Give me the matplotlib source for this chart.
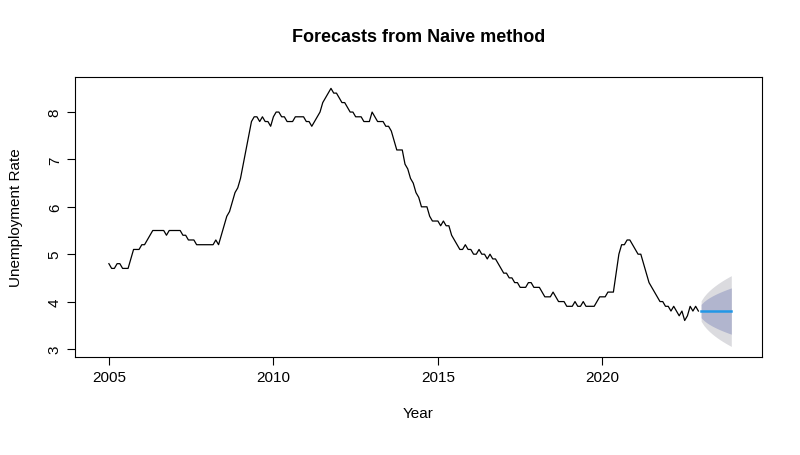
import numpy as np
import matplotlib.pyplot as plt

plt.rcParams["font.family"] = ["Liberation Sans", "DejaVu Sans"]

start_year = 2005
unemp = [
    4.8, 4.7, 4.7, 4.8, 4.8, 4.7, 4.7, 4.7, 4.9, 5.1, 5.1, 5.1,
    5.2, 5.2, 5.3, 5.4, 5.5, 5.5, 5.5, 5.5, 5.5, 5.4, 5.5, 5.5,
    5.5, 5.5, 5.5, 5.4, 5.4, 5.3, 5.3, 5.3, 5.2, 5.2, 5.2, 5.2,
    5.2, 5.2, 5.2, 5.3, 5.2, 5.4, 5.6, 5.8, 5.9, 6.1, 6.3, 6.4,
    6.6, 6.9, 7.2, 7.5, 7.8, 7.9, 7.9, 7.8, 7.9, 7.8, 7.8, 7.7,
    7.9, 8.0, 8.0, 7.9, 7.9, 7.8, 7.8, 7.8, 7.9, 7.9, 7.9, 7.9,
    7.8, 7.8, 7.7, 7.8, 7.9, 8.0, 8.2, 8.3, 8.4, 8.5, 8.4, 8.4,
    8.3, 8.2, 8.2, 8.1, 8.0, 8.0, 7.9, 7.9, 7.9, 7.8, 7.8, 7.8,
    8.0, 7.9, 7.8, 7.8, 7.8, 7.7, 7.7, 7.6, 7.4, 7.2, 7.2, 7.2,
    6.9, 6.8, 6.6, 6.5, 6.3, 6.2, 6.0, 6.0, 6.0, 5.8, 5.7, 5.7,
    5.7, 5.6, 5.7, 5.6, 5.6, 5.4, 5.3, 5.2, 5.1, 5.1, 5.2, 5.1,
    5.1, 5.0, 5.0, 5.1, 5.0, 5.0, 4.9, 5.0, 4.9, 4.9, 4.8, 4.7,
    4.6, 4.6, 4.5, 4.5, 4.4, 4.4, 4.3, 4.3, 4.3, 4.4, 4.4, 4.3,
    4.3, 4.3, 4.2, 4.1, 4.1, 4.1, 4.2, 4.1, 4.0, 4.0, 4.0, 3.9,
    3.9, 3.9, 4.0, 3.9, 3.9, 4.0, 3.9, 3.9, 3.9, 3.9, 4.0, 4.1,
    4.1, 4.1, 4.2, 4.2, 4.2, 4.6, 5.0, 5.2, 5.2, 5.3, 5.3, 5.2,
    5.1, 5.0, 5.0, 4.8, 4.6, 4.4, 4.3, 4.2, 4.1, 4.0, 4.0, 3.9,
    3.9, 3.8, 3.9, 3.8, 3.7, 3.8, 3.6, 3.7, 3.9, 3.8, 3.9, 3.8,
]
horizon = 12
sigma = 0.11  # residual sd of the naive model

t = start_year + np.arange(len(unemp)) / 12
tf = t[-1] + np.arange(1, horizon + 1) / 12
fc = np.full(horizon, unemp[-1])
se = sigma * np.sqrt(np.arange(1, horizon + 1))

fig = plt.figure(figsize=(8, 4.56), dpi=100)
ax = fig.add_axes([75 / 800, 1 - 358 / 456, (762 - 75) / 800, (358 - 78) / 456])
ax.fill_between(tf, fc - 1.96 * se, fc + 1.96 * se, color="#DBDBDF", lw=0)
ax.fill_between(tf, fc - 1.2816 * se, fc + 1.2816 * se, color="#B1B5CE", lw=0)
ax.plot(t, unemp, color="black", lw=0.9)
ax.plot(tf, fc, color="#2297E6", lw=1.8)

ax.set_xlim(2003.97, 2024.85)
ax.set_ylim(2.83, 8.74)
ax.set_xticks([2005, 2010, 2015, 2020])
ax.set_yticks([3, 4, 5, 6, 7, 8])
for lab in ax.get_yticklabels():
    lab.set_rotation(90)
    lab.set_va("center")
ax.tick_params(direction="out", length=6, labelsize=11)
ax.set_xlabel("Year", fontsize=11, labelpad=16)
ax.set_ylabel("Unemployment Rate", fontsize=11, labelpad=18)
ax.set_title("Forecasts from Naive method", fontsize=13, fontweight="bold", pad=26)

fig.savefig("out.png", dpi=100)
